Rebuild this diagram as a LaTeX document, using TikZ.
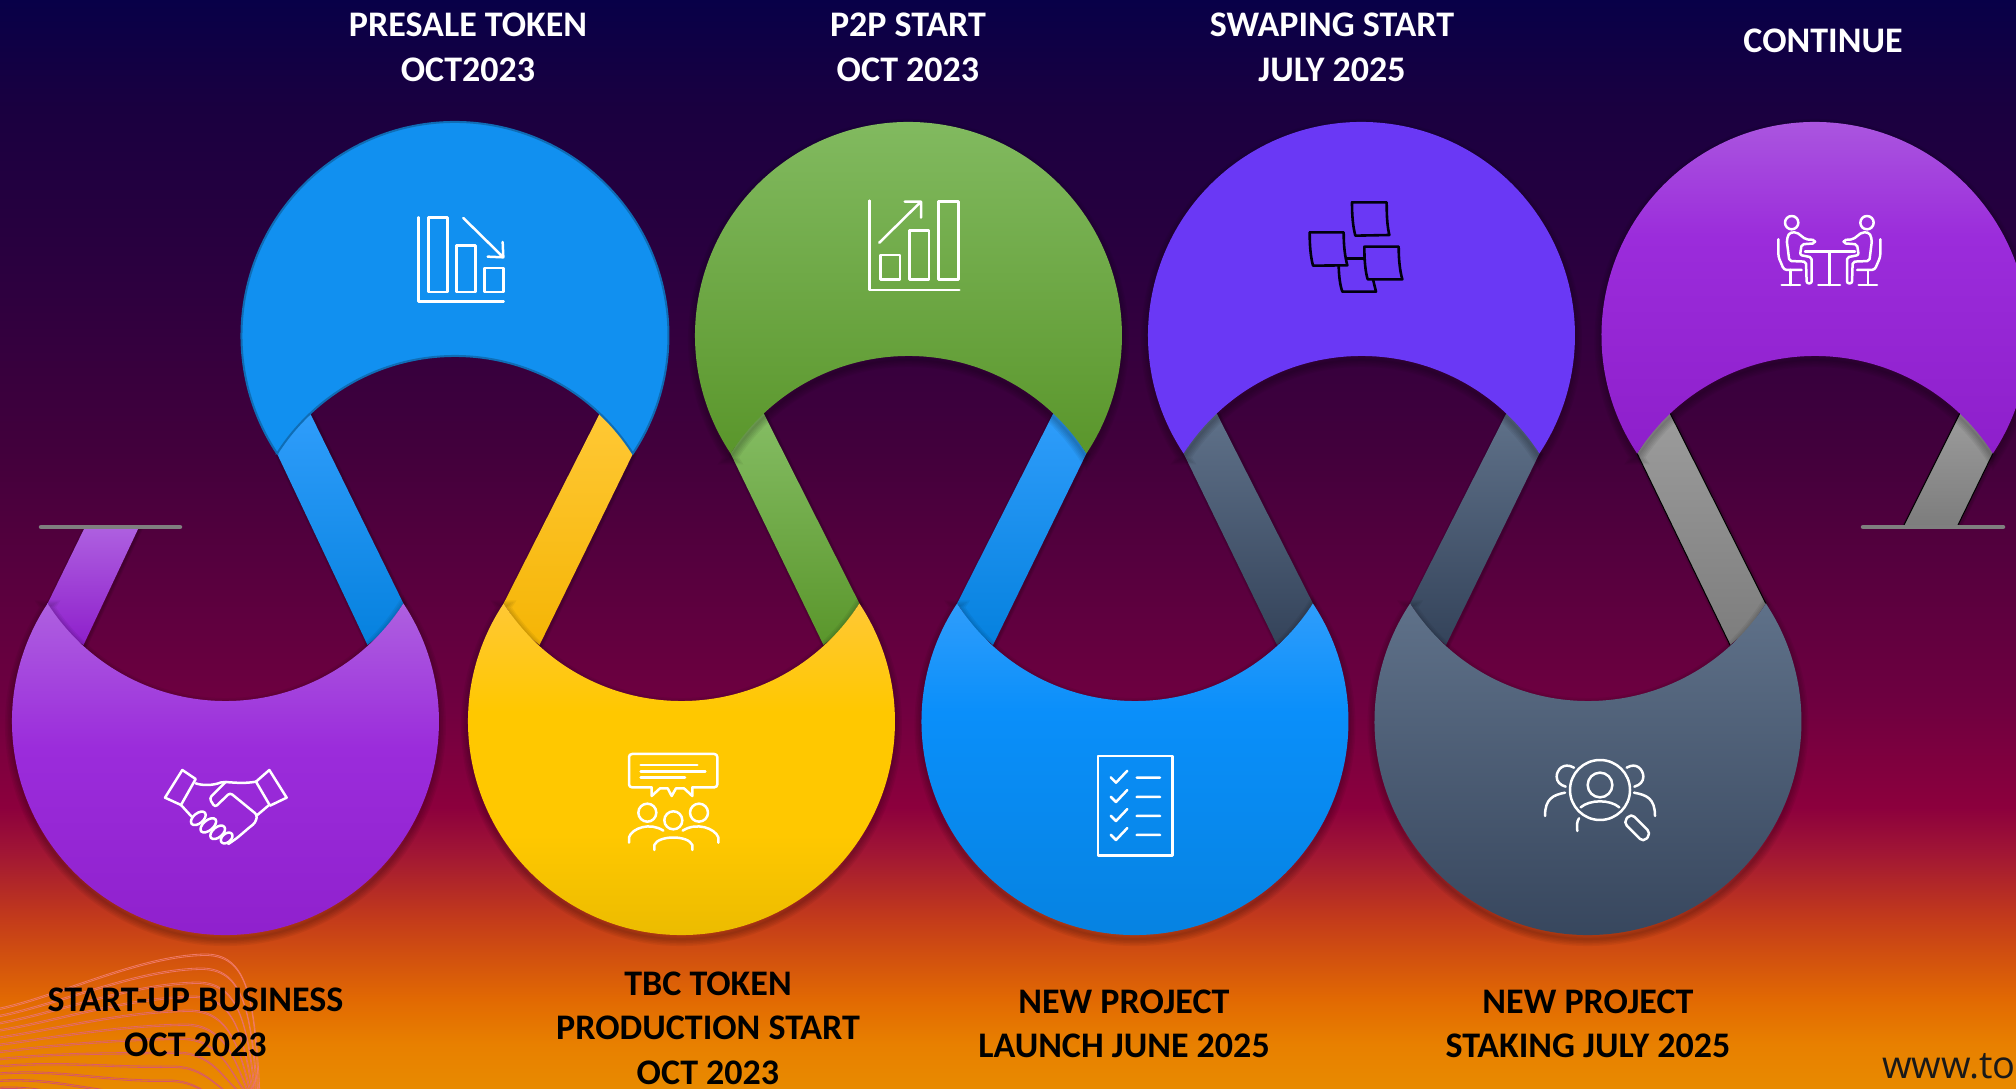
\documentclass[tikz,border=0pt]{standalone}
\usepackage{fontspec}
\setmainfont{Carlito}
\newfontfamily\wwwfont{Open Sans}
\definecolor{bgA}{HTML}{E88A00}\definecolor{bgB}{HTML}{E88000}\definecolor{bgC}{HTML}{E26A02}
\definecolor{bgD}{HTML}{C43C1A}\definecolor{bgE}{HTML}{A01535}\definecolor{bgF}{HTML}{8C003D}
\definecolor{bgG}{HTML}{6E0040}\definecolor{bgH}{HTML}{42003C}\definecolor{bgI}{HTML}{2B003F}
\definecolor{bgJ}{HTML}{1A0040}\definecolor{bgK}{HTML}{080048}
\pgfdeclareverticalshading{bgshade}{100bp}{
 color(0bp)=(bgA); color(25bp)=(bgA); color(27bp)=(bgB); color(29bp)=(bgC); color(32.7bp)=(bgD);
 color(35.9bp)=(bgE); color(37.9bp)=(bgF); color(42.8bp)=(bgG); color(54.3bp)=(bgH);
 color(62.6bp)=(bgI); color(70bp)=(bgJ); color(75bp)=(bgK); color(100bp)=(bgK)}
\definecolor{barg}{HTML}{7F7F7F}
\definecolor{bPurA}{HTML}{AE60E0}\definecolor{bPurB}{HTML}{9B2CDB}\definecolor{bPurC}{HTML}{8E1FCB}
\definecolor{yelA}{HTML}{FFC835}\definecolor{yelB}{HTML}{FFC800}\definecolor{yelC}{HTML}{E6B800}\definecolor{yelR}{HTML}{F5B505}
\definecolor{bluA}{HTML}{2F9DFB}\definecolor{bluB}{HTML}{0A8FFA}\definecolor{bluC}{HTML}{0581DE}
\definecolor{slaA}{HTML}{5F7189}\definecolor{slaB}{HTML}{4C5D76}\definecolor{slaC}{HTML}{34435A}
\definecolor{greA}{HTML}{85BD64}\definecolor{greB}{HTML}{70AF40}\definecolor{greC}{HTML}{5A962B}
\definecolor{gryA}{HTML}{9C9C9C}\definecolor{gryB}{HTML}{7D7D7D}
\definecolor{bluT}{HTML}{1190F0}\definecolor{bluE}{HTML}{0F6DB5}
\definecolor{vio}{HTML}{6A38F5}
\definecolor{waveA}{HTML}{F07A68}\definecolor{waveB}{HTML}{C8406A}
\pgfdeclareverticalshading{luneP}{100bp}{color(0bp)=(bPurC); color(25bp)=(bPurC); color(55bp)=(bPurB); color(75bp)=(bPurA); color(100bp)=(bPurA)}
\pgfdeclareverticalshading{luneY}{100bp}{color(0bp)=(yelC); color(25bp)=(yelC); color(43bp)=(yelB); color(60bp)=(yelB); color(75bp)=(yelA); color(100bp)=(yelA)}
\pgfdeclareverticalshading{luneB}{100bp}{color(0bp)=(bluC); color(25bp)=(bluC); color(60bp)=(bluB); color(75bp)=(bluA); color(100bp)=(bluA)}
\newcommand\toppath[1]{(#1-177.9,634.5) arc[start angle=213.57,end angle=-33.57,radius=213.5] arc[start angle=32.53,end angle=147.47,radius=211] -- cycle}
\newcommand\botpath[1]{(#1-177.9,484.5) arc[start angle=146.43,end angle=393.57,radius=213.5] arc[start angle=-32.53,end angle=-147.47,radius=211] -- cycle}
\newcommand\softshadow[1]{\foreach \w in {14,11,8,5,2}{\draw[black,opacity=.05,line width=\w,shift={(0,-4)}] #1;}}
\newcommand\toplune[2]{\softshadow{\toppath{#1}}\path[#2] \toppath{#1};}
\newcommand\botlune[2]{\softshadow{\botpath{#1}}\path[#2] \botpath{#1};}
% ribbon: style, A, B (upper end), C, D (lower end)
\newcommand\ribbon[9]{%
 \foreach \w in {6,4,2}{\draw[black,opacity=.07,line width=\w,shift={(1,1)}] (#2,#3) -- (#4,#5) -- (#6,#7) -- (#8,#9) -- cycle;}
 \path[#1] (#2,#3) -- ({(#2+#4)/2},{(#3+#5)/2-6}) -- (#4,#5) -- (#6,#7) -- ({(#6+#8)/2},{(#7+#9)/2+6}) -- (#8,#9) -- cycle;}
\tikzset{
 x=1pt,y=1pt,
 pixels/.style={shift={(0,1088)},yscale=-1},
 icon/.style={draw=white,line width=2.5,line join=round,line cap=round},
 noteicon/.style={draw=black!95!blue,line width=2.6,line join=round},
 toptext/.style={align=center,inner sep=0,text=white,font=\bfseries\fontsize{36}{44.5}\selectfont},
 bottext/.style={align=center,inner sep=0,text=black,font=\bfseries\fontsize{36}{44.5}\selectfont},
 sSlate/.style={top color=slaA,middle color=slaB,bottom color=slaC},
 sGreen/.style={top color=greA,middle color=greB,bottom color=greC},
 rPurple/.style={top color=bPurA,bottom color=bPurC},
 rYellow/.style={top color=yelA,bottom color=yelR},
 rBlue/.style={top color=bluA,middle color=bluB,bottom color=bluC},
 rGreen/.style={top color=greA,bottom color=greC},
 rSlate/.style={top color=slaA,bottom color=slaC},
 rGray/.style={top color=gryA,bottom color=gryB},
 wave/.style={line width=.8,draw=#1},
}
\begin{document}
\begin{tikzpicture}
\useasboundingbox (0,0) rectangle (2016,1088);
\clip (0,0) rectangle (2016,1088);
\shade[shading=bgshade] (0,0) rectangle (2016,1088);

% decorative lines bottom left
\begin{scope}[pixels]
\foreach \i in {0,...,13}{
 \pgfmathsetmacro\ystart{1008+7.2*\i}
 \pgfmathsetmacro\px{205-4*\i}
 \pgfmathsetmacro\py{954+14*\i}
 \pgfmathtruncatemacro\mixv{100-7*\i}
 \foreach \o in {0,1.5}{
 \draw[wave={waveA!\mixv!waveB}] (0,\ystart+\o) .. controls (60,{\ystart-13*(1-\i/14)+\o}) and (\px-65,\py+1+\o) .. (\px,\py+\o) .. controls (\px+40,\py+\o) and (\px+50,\py+36) .. ({260-2*\i-\o},1095);}
}

% ribbons
\coordinate (barLa) at (41,527);\coordinate (barLb) at (180,527);
\coordinate (barRa) at (1863,527);\coordinate (barRb) at (2003,527);
\foreach \w in {6,4,2}{\draw[black,opacity=.07,line width=\w,shift={(1,1)}] (85,527) -- (139,527) -- (83.5,645) -- (47.6,603.5) -- cycle;}
\path[rPurple] (85,527) -- (139,527) -- (83.5,645) -- (60,630) -- (47.6,603.5) -- cycle;
\ribbon{rBlue}{277}{453.5}{310}{413}{403.4}{603.5}{367.5}{645}
\ribbon{rYellow}{600}{413}{633}{453.5}{539.5}{645}{503.6}{603.5}
\ribbon{rGreen}{730.6}{453.5}{763.5}{413}{859.4}{603.5}{823.5}{645}
\ribbon{rBlue}{1053.5}{413}{1086.4}{453.5}{993}{645}{957.1}{603.5}
\ribbon{rSlate}{1183.6}{453.5}{1216.5}{413}{1312.9}{603.5}{1277}{645}
\ribbon{rSlate}{1506.5}{413}{1539.4}{453.5}{1446}{645}{1410.1}{603.5}
\ribbon{rGray}{1637.1}{453.5}{1670}{413}{1765.9}{603.5}{1730}{645}
\draw[black,line width=1] (1637.1,453.5) -- (1730,645) (1670,413) -- (1765.9,603.5);
\foreach \w in {6,4,2}{\draw[black,opacity=.07,line width=\w,shift={(1,1)}] (1960,413) -- (1992.9,453.5) -- (1958,525) -- (1904,525) -- cycle;}
\path[rGray] (1960,413) -- (1980,427) -- (1992.9,453.5) -- (1958,525) -- (1904,525) -- cycle;
\draw[black,line width=1] (1960,413) -- (1904,525) (1992.9,453.5) -- (1958,525);
\draw[barg,line width=4.5,line cap=round] (barLa) -- (barLb);
\draw[barg,line width=4.5,line cap=round] (barRa) -- (barRb);
\end{scope}

% lunes
\botlune{225.5}{shade,shading=luneP}
\botlune{681.5}{shade,shading=luneY}
\botlune{1135}{shade,shading=luneB}
\botlune{1588}{sSlate}
\path[fill=bluT,draw=bluE,line width=2] \toppath{455};
\toplune{908.5}{sGreen}
\toplune{1361.5}{fill=vio}
\toplune{1815}{shade,shading=luneP}

\begin{scope}[pixels]
% icon: falling bars
\begin{scope}[shift={(230,110)},scale=1/3,icon]
\draw (566,322) -- (566,574) -- (821,574);
\draw (595,322) rectangle (652,546) (680,406) rectangle (736,546) (763,474) rectangle (820,546);
\draw (700,324) -- (820,442) (818,396) -- (820,442) -- (773,440);
\end{scope}
% icon: rising bars
\begin{scope}[shift={(840,180)},scale=1/3,icon]
\draw (88,62) -- (88,330) -- (358,330);
\draw (121,225) rectangle (180,298) (208,151) rectangle (267,298) (296,64) rectangle (356,298);
\draw (118,188) -- (243,65) (194,65) -- (243,65) -- (243,113);
\end{scope}
% icon: notes
\begin{scope}[shift={(1290,190)},scale=1/3,noteicon]
\draw (186,37) -- (290,37) .. controls (290,80) and (292,110) .. (298,135) -- (196,137) .. controls (189,110) and (186,80) .. cycle;
\draw (59,127) -- (161,127) .. controls (161,170) and (165,200) .. (172,226) -- (69,227) .. controls (62,200) and (59,170) .. cycle;
\draw (223,170) -- (326,170) .. controls (326,210) and (330,245) .. (337,268) -- (233,268) .. controls (226,245) and (223,210) .. cycle;
\draw (146,228) .. controls (147,260) and (150,285) .. (157,305) -- (258,305) -- (249,268);
\draw (166,205) -- (223,205);
\end{scope}
% icon: meeting
\begin{scope}[shift={(1760,200)},scale=1/3,icon]
\draw (135,155) -- (285,155) (208,155) -- (208,255) (175,255) -- (240,255);
\foreach \sx/\tx in {1/0,-1/416}{
\begin{scope}[shift={(\tx,0)},xscale=\sx]
\draw (95,68) circle[radius=20];
\draw[rounded corners=2pt] (110,97) -- (137,118) -- (165,120) -- (165,130) -- (125,133) -- (120,165) -- (155,172) -- (155,250) -- (140,250) -- (138,185) -- (88,183) -- (80,120) -- (88,98) -- cycle;
\draw[rounded corners=3pt] (55,118) -- (55,170) -- (72,210) -- (125,210);
\draw (92,210) -- (92,255) (65,255) -- (120,255);
\end{scope}}
\end{scope}
% icon: handshake
\begin{scope}[shift={(150,750)},scale=1/3,icon]
\draw (45,143) -- (97,60) -- (137,87) -- (93,165) -- cycle;
\draw (318,95) -- (358,60) -- (410,143) -- (360,167) -- cycle;
\draw (137,100) .. controls (160,108) and (190,105) .. (205,100) .. controls (225,90) and (260,105) .. (318,95);
\draw[rounded corners=3pt] (228,95) -- (178,145) -- (195,172) -- (240,128) -- (322,195) -- (316,218) -- (295,235) -- (260,265) -- (235,282);
\draw (93,165) -- (125,200) (355,167) -- (322,195);
\draw[rotate around={-40:(145,205)}] (145,205) ellipse [x radius=26,y radius=15];
\draw[rotate around={-40:(175,226)}] (175,226) ellipse [x radius=28,y radius=15];
\draw[rotate around={-40:(203,247)}] (203,247) ellipse [x radius=26,y radius=15];
\draw[rotate around={-40:(230,264)}] (230,264) ellipse [x radius=20,y radius=13];
\end{scope}
% icon: chat group
\begin{scope}[shift={(600,730)},scale=1/3,icon]
\draw[rounded corners=3pt] (155,172) -- (87,172) -- (87,72) -- (352,72) -- (352,172) -- (277,172);
\draw (155,172) -- (155,198) -- (180,175) -- (203,175) -- (215,198) -- (228,175) -- (252,175) -- (277,198) -- (277,172);
\draw (122,105) -- (292,105) (122,124) -- (316,124) (122,143) -- (255,143);
\draw (142,248) circle[radius=27] (220,271) circle[radius=27] (297,248) circle[radius=27];
\draw (87,338) -- (87,322) .. controls (95,295) and (150,275) .. (190,302);
\draw (355,338) -- (355,322) .. controls (345,295) and (290,275) .. (248,302);
\draw (163,360) -- (163,345) .. controls (175,315) and (265,315) .. (277,345) -- (277,360);
\end{scope}
% icon: checklist
\begin{scope}[shift={(1040,720)},scale=1/3,icon]
\draw (174,108) rectangle (397,406);
\foreach \dy in {0,58,115,172}{
\draw[shift={(0,\dy)}] (212,172) -- (228,188) -- (262,152) (290,173) -- (360,173);}
\end{scope}
% icon: magnifier
\begin{scope}[shift={(1530,730)},scale=1/3,icon]
\draw (210,180) circle[radius=90] (210,165) circle[radius=37];
\draw (152,232) .. controls (180,208) and (240,208) .. (268,232);
\draw (132,113) .. controls (100,95) and (80,120) .. (80,140) .. controls (80,155) and (90,165) .. (107,170);
\draw (290,113) .. controls (320,95) and (340,120) .. (340,140) .. controls (340,155) and (330,165) .. (313,170);
\draw (105,188) .. controls (70,195) and (45,205) .. (45,258);
\draw (312,188) .. controls (350,195) and (375,205) .. (375,258);
\draw (147,265) .. controls (140,275) and (140,290) .. (142,303);
\draw[rounded corners=5pt] (303,250) -- (363,310) -- (340,337) -- (280,277) -- cycle;
\end{scope}

% texts
\node[toptext] (t1) at (468,47.5) {PRESALE TOKEN\\OCT2023};
\node[toptext] (t2) at (908,47.5) {P2P START\\OCT 2023};
\node[toptext] (t3) at (1332,47.5) {SWAPING START\\JULY 2025};
\node[toptext] (t4) at (1823,41) {CONTINUE};
\node[bottext] (b1) at (195.5,1022.5) {START-UP BUSINESS\\OCT 2023};
\node[bottext] (b2) at (708,1028) {TBC TOKEN\\PRODUCTION START\\OCT 2023};
\node[bottext] (b3) at (1124,1024) {NEW PROJECT\\LAUNCH JUNE 2025};
\node[bottext] (b4) at (1588,1024) {NEW PROJECT\\STAKING JULY 2025};
\node[anchor=west,inner sep=0,text=black!90,font=\wwwfont\fontsize{38}{44}\selectfont] (w) at (1882,1066) {www.to};
\end{scope}
\end{tikzpicture}
\end{document}
